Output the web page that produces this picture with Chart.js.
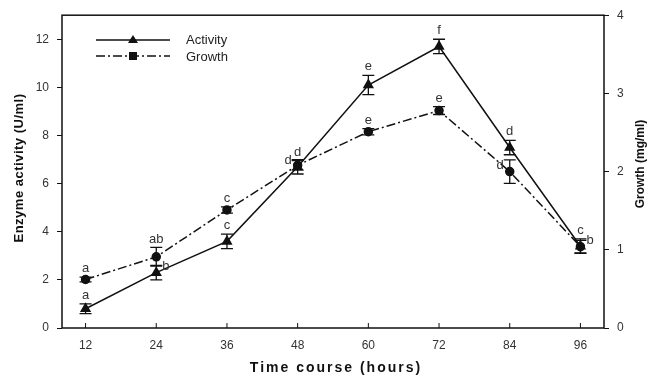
<!DOCTYPE html>
<html><head><meta charset="utf-8">
<script src="https://cdn.jsdelivr.net/npm/chart.js@4"></script>
<style>html,body{margin:0;padding:0;background:#fff}#wrap{width:648px;height:376px}</style>
</head><body><div id="wrap"><canvas id="c" width="648" height="376"></canvas></div>
<script>
const hours = [12, 24, 36, 48, 60, 72, 84, 96];
const activity = [0.8, 2.3, 3.6, 6.7, 10.1, 11.7, 7.5, 3.4];
const activityErr = [0.2, 0.3, 0.3, 0.3, 0.4, 0.3, 0.3, 0.3];
const growth = [0.62, 0.91, 1.51, 2.08, 2.51, 2.78, 2.0, 1.04];
const growthErr = [0.03, 0.12, 0.04, 0.06, 0.04, 0.05, 0.15, 0.08];
const activityLetters = ['a', 'b', 'c', 'd', 'e', 'f', 'd', 'c'];
const growthLetters = ['a', 'ab', 'c', 'd', 'e', 'e', 'd', 'b'];
const xTicks = [12, 24, 36, 48, 60, 72, 84, 96];
const leftTicks = [0, 2, 4, 6, 8, 10, 12];
const rightTicks = [0, 1, 2, 3, 4];

// letter placement: 'u' above, 'l' left, 'r' right
const actPos = ['u', 'r', 'u', 'l', 'u', 'u', 'u', 'u'];
const groPos = ['u', 'u', 'u', 'u', 'u', 'u', 'l', 'r'];

const DASHDOT = [9, 3, 2, 3];
const FONT = '"Liberation Sans", Arial, sans-serif';

const extras = {
  id: 'extras',
  afterDatasetsDraw(chart) {
    const ctx = chart.ctx;
    const x = chart.scales.x, yl = chart.scales.y, yr = chart.scales.y2;
    const ca = chart.chartArea;
    ctx.save();
    // frame
    ctx.strokeStyle = '#111'; ctx.lineWidth = 1.5;
    ctx.strokeRect(ca.left, ca.top, ca.right - ca.left, ca.bottom - ca.top);
    // x ticks inward
    ctx.lineWidth = 1;
    xTicks.forEach(v => { const px = x.getPixelForValue(v); ctx.beginPath(); ctx.moveTo(px, ca.bottom); ctx.lineTo(px, ca.bottom - 5); ctx.stroke(); });
    // error bars
    function eb(vals, errs, scale) {
      vals.forEach((v, i) => {
        const px = x.getPixelForValue(hours[i]);
        const t = scale.getPixelForValue(v + errs[i]);
        const b = scale.getPixelForValue(v - errs[i]);
        ctx.beginPath();
        ctx.moveTo(px, t); ctx.lineTo(px, b);
        ctx.moveTo(px - 6, t); ctx.lineTo(px + 6, t);
        ctx.moveTo(px - 6, b); ctx.lineTo(px + 6, b);
        ctx.stroke();
      });
    }
    ctx.strokeStyle = '#111'; ctx.lineWidth = 1.3;
    eb(activity, activityErr, yl);
    eb(growth, growthErr, yr);
    // letters
    ctx.fillStyle = '#333';
    ctx.font = '13px ' + FONT;
    function letters(vals, errs, scale, labs, pos) {
      vals.forEach((v, i) => {
        const px = x.getPixelForValue(hours[i]);
        const py = scale.getPixelForValue(v);
        const top = scale.getPixelForValue(v + errs[i]);
        const p = pos[i];
        if (p === 'u') { ctx.textAlign = 'center'; ctx.textBaseline = 'bottom'; ctx.fillText(labs[i], px, top - 2); }
        else if (p === 'l') { ctx.textAlign = 'right'; ctx.textBaseline = 'middle'; ctx.fillText(labs[i], px - 6, py - 6); }
        else { ctx.textAlign = 'left'; ctx.textBaseline = 'middle'; ctx.fillText(labs[i], px + 6, py - 6); }
      });
    }
    letters(activity, activityErr, yl, activityLetters, actPos);
    letters(growth, growthErr, yr, growthLetters, groPos);
    // legend
    ctx.strokeStyle = '#111'; ctx.lineWidth = 1.5;
    ctx.setLineDash([]);
    ctx.beginPath(); ctx.moveTo(96, 40); ctx.lineTo(170, 40); ctx.stroke();
    ctx.fillStyle = '#111';
    ctx.beginPath(); ctx.moveTo(133, 35); ctx.lineTo(138, 43); ctx.lineTo(128, 43); ctx.closePath(); ctx.fill();
    ctx.setLineDash(DASHDOT);
    ctx.beginPath(); ctx.moveTo(96, 56); ctx.lineTo(170, 56); ctx.stroke();
    ctx.setLineDash([]);
    ctx.fillRect(129, 52, 8, 8);
    ctx.fillStyle = '#222';
    ctx.font = '13px ' + FONT;
    ctx.textAlign = 'left'; ctx.textBaseline = 'middle';
    ctx.fillText('Activity', 186, 40);
    ctx.fillText('Growth', 186, 57);
    // axis titles
    ctx.font = 'bold 13px ' + FONT;
    ctx.fillStyle = '#111';
    ctx.textAlign = 'center'; ctx.textBaseline = 'middle';
    ctx.save(); ctx.translate(19, 168); ctx.rotate(-Math.PI / 2); ctx.letterSpacing = '0.5px'; ctx.fillText('Enzyme activity (U/ml)', 0, 0); ctx.restore();
    ctx.save(); ctx.translate(641, 164); ctx.rotate(-Math.PI / 2); ctx.font = 'bold 12px ' + FONT; ctx.fillText('Growth (mg/ml)', 0, 0); ctx.restore();
    ctx.font = 'bold 14px ' + FONT;
    ctx.letterSpacing = '2px';
    ctx.fillText('Time course (hours)', 336, 368);
    ctx.restore();
  }
};

new Chart(document.getElementById('c'), {
  type: 'line',
  data: {
    datasets: [
      { label: 'Activity', data: hours.map((h, i) => ({ x: h, y: activity[i] })), yAxisID: 'y',
        borderColor: '#111', backgroundColor: '#111', borderWidth: 1.5, pointStyle: 'triangle', pointRadius: 5, tension: 0 },
      { label: 'Growth', data: hours.map((h, i) => ({ x: h, y: growth[i] })), yAxisID: 'y2',
        borderColor: '#111', backgroundColor: '#111', borderWidth: 1.5, borderDash: DASHDOT, pointStyle: 'circle', pointRadius: 4, tension: 0 }
    ]
  },
  options: {
    responsive: false, animation: false, devicePixelRatio: 1,
    layout: { padding: { top: 15, left: 0, right: 0, bottom: 0 } },
    plugins: { legend: { display: false }, tooltip: { enabled: false } },
    scales: {
      x: { type: 'linear', min: 8, max: 100,
        afterBuildTicks: s => { s.ticks = xTicks.map(v => ({ value: v })); },
        afterFit: s => { s.height = 48; },
        grid: { display: false, drawTicks: false }, border: { display: false },
        ticks: { color: '#333', font: { family: FONT, size: 12 }, padding: 10 } },
      y: { position: 'left', min: 0, max: 13,
        afterBuildTicks: s => { s.ticks = leftTicks.map(v => ({ value: v })); },
        afterFit: s => { s.width = 62; },
        grid: { drawOnChartArea: false, tickLength: 5, color: '#111', tickColor: '#111' }, border: { display: false },
        ticks: { color: '#333', font: { family: FONT, size: 12 }, padding: 8 } },
      y2: { position: 'right', min: 0, max: 4,
        afterBuildTicks: s => { s.ticks = rightTicks.map(v => ({ value: v })); },
        afterFit: s => { s.width = 44; },
        grid: { drawOnChartArea: false, tickLength: 5, color: '#111', tickColor: '#111' }, border: { display: false },
        ticks: { color: '#333', font: { family: FONT, size: 12 }, padding: 8 } }
    }
  },
  plugins: [extras]
});
</script></body></html>
